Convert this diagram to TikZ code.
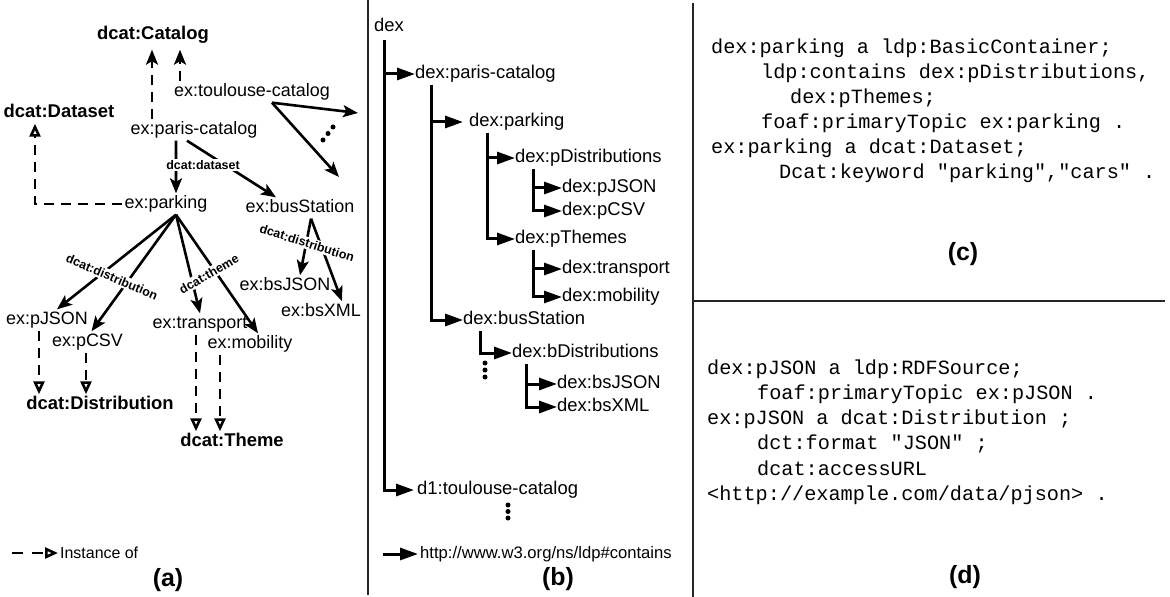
\documentclass[tikz,border=0pt]{standalone}
\usepackage{fontspec}
\setmainfont{Liberation Sans}
\setmonofont{Liberation Mono}
\usetikzlibrary{arrows.meta}
\begin{document}
\begin{tikzpicture}[x=1bp,y=-1bp,
  lbl/.style={font=\fontsize{18}{20}\selectfont, inner sep=2bp, text height=13bp, text depth=4bp},
  cls/.style={font=\fontsize{18.5}{20}\selectfont\bfseries, inner sep=2bp, text height=13bp, text depth=4bp},
  elbl/.style={font=\fontsize{12.5}{13}\selectfont\bfseries, fill=white, inner sep=1.5bp},
  arr/.style={line width=2.6bp, -{Stealth[length=15bp,width=12bp,inset=3.5bp]}},
  instf/.style={line width=2.6bp, dash pattern=on 10bp off 7bp, -{Stealth[length=15bp,width=12bp,inset=3.5bp]}},
  inst/.style={line width=2.6bp, dash pattern=on 10bp off 7bp, -{Triangle[open,length=13bp,width=11bp]}},
  tnode/.style={font=\fontsize{18.5}{20}\selectfont, anchor=west, inner sep=0pt, text height=13.5bp, text depth=4bp},
  tarr/.style={line width=3bp, -{Triangle[length=18bp,width=12bp]}},
  code/.style={font=\fontsize{20.3}{22}\selectfont\ttfamily, anchor=base west, inner sep=0pt},
  plabel/.style={font=\fontsize{25}{28}\selectfont\bfseries, inner sep=0pt},
  divider/.style={line width=1.6bp, draw=black!85}
]
\useasboundingbox (0,0) rectangle (1170,597);

% ---------------- panel (a) ----------------
\node[cls] (cat) at (153,35) {dcat:Catalog};
\node[lbl] (toul) at (252,92) {ex:toulouse-catalog};
\node[cls] (dset) at (59,113) {dcat:Dataset};
\node[lbl] (pc) at (194,130) {ex:paris-catalog};
\node[lbl] (pk) at (166,204) {ex:parking};
\node[lbl] (bus) at (300,208) {ex:busStation};
\node[lbl] (bsj) at (285,286) {ex:bsJSON};
\node[lbl] (bsx) at (321,312) {ex:bsXML};
\node[lbl] (pjson) at (47,320) {ex:pJSON};
\node[lbl] (pcsv) at (87.5,342) {ex:pCSV};
\node[lbl] (trans) at (200,324) {ex:transport};
\node[lbl] (mob) at (250,344) {ex:mobility};
\node[cls] (dist) at (100,405) {dcat:Distribution};
\node[cls] (theme) at (232,442) {dcat:Theme};

% instance-of to catalog
\coordinate (c1) at ([xshift=-42bp]pc.north);
\draw[instf, shorten >=4bp] (c1) -- (c1 |- cat.south);
\coordinate (c2) at ([xshift=-72bp]toul.north);
\draw[instf, shorten >=4bp] (c2) -- (c2 |- cat.south);
% parking instance of dataset
\coordinate (dsb) at ([xshift=-24bp]dset.south);
\draw[inst] (pk.west) -| (dsb);
% contains edges
\draw[arr] ([xshift=-18bp]pc.south) -- ([xshift=10bp]pk.north);
\draw[arr] ([xshift=-7bp]pc.south) -- ([xshift=-24bp]bus.north);
\coordinate (pkb) at ([xshift=10bp]pk.south);
\draw[arr] (pkb) -- ([xshift=10bp]pjson.north);
\draw[arr] (pkb) -- ([xshift=4bp]pcsv.north);
\draw[arr] (pkb) -- (trans.north);
\draw[arr] (pkb) -- ([xshift=8bp]mob.north);
\coordinate (bsb) at ([xshift=11bp]bus.south);
\draw[arr] (bsb) -- ([xshift=15bp]bsj.north);
\draw[arr] (bsb) -- ([xshift=21bp]bsx.north);
\coordinate (tc1) at (358,113);
\coordinate (tc2) at (339,177);
\coordinate (tcs) at ([xshift=20bp]toul.south);
\draw[arr] (tcs) -- (tc1);
\draw[arr] (tcs) -- (tc2);
\fill (323,140) circle (2.5bp) (328,133.5) circle (2.5bp) (333,127) circle (2.5bp);
% instance-of to distribution / theme
\coordinate (i1) at ([xshift=-8bp]pjson.south);
\draw[inst] (i1) -- (i1 |- dist.north);
\coordinate (i2) at ([xshift=-1.5bp]pcsv.south);
\draw[inst] (i2) -- (i2 |- dist.north);
\coordinate (i3) at ([xshift=-4bp]trans.south);
\draw[inst] (i3) -- (i3 |- theme.north);
\coordinate (i4) at ([xshift=-30bp]mob.south);
\draw[inst] (i4) -- (i4 |- theme.north);
% edge labels
\node[elbl] (l1) at (203,165) {dcat:dataset};
\node[elbl, rotate=-23] (l2) at (112,277) {dcat:distribution};
\node[elbl, rotate=30] (l3) at (209,274) {dcat:theme};
\node[elbl, rotate=-17.5] (l4) at (307,243) {dcat:distribution};
% legend
\node[font=\fontsize{16}{18}\selectfont, anchor=west, inner sep=0pt] (inl) at (60,553) {Instance of};
\coordinate (lga) at (12,553);
\draw[inst, dash pattern=on 11bp off 9bp] (lga) -- ([xshift=-2bp]inl.west);
\node[plabel] (pa) at (168,580) {(a)};

% ---------------- panel (b) ----------------
\node[tnode] (dex) at (374,27) {dex};
\node[tnode] (pc2) at (415,74) {dex:paris-catalog};
\node[tnode] (pk2) at (469,122) {dex:parking};
\node[tnode] (pd) at (515,158) {dex:pDistributions};
\node[tnode] (pj) at (562,188) {dex:pJSON};
\node[tnode] (pcv) at (562,211) {dex:pCSV};
\node[tnode] (pt) at (515,239) {dex:pThemes};
\node[tnode] (tr2) at (562,269) {dex:transport};
\node[tnode] (mo2) at (562,297) {dex:mobility};
\node[tnode] (bs2) at (463,320) {dex:busStation};
\node[tnode] (bd) at (512,353) {dex:bDistributions};
\node[tnode] (bj) at (557,384) {dex:bsJSON};
\node[tnode] (bx) at (557,407) {dex:bsXML};
\node[tnode] (tl2) at (417,490) {d1:toulouse-catalog};

\coordinate (v0) at ([xshift=10bp,yshift=-4bp]dex.south west);
\draw[tarr] (v0) |- ([xshift=-3bp]tl2.west);
\draw[tarr] (v0 |- pc2.west) -- (pc2.west);
\coordinate (v1) at ([xshift=16bp,yshift=-2bp]pc2.south west);
\draw[tarr] (v1) |- (bs2.west);
\draw[tarr] (v1 |- pk2.west) -- ([xshift=-6bp]pk2.west);
\coordinate (v2) at ([xshift=18bp,yshift=-2bp]pk2.south west);
\draw[tarr] (v2) |- (pt.west);
\draw[tarr] (v2 |- pd.west) -- (pd.west);
\coordinate (v3) at ([xshift=18bp,yshift=-2bp]pd.south west);
\draw[tarr] (v3) |- (pcv.west);
\draw[tarr] (v3 |- pj.west) -- (pj.west);
\coordinate (v4) at ([xshift=18bp,yshift=-2bp]pt.south west);
\draw[tarr] (v4) |- (mo2.west);
\draw[tarr] (v4 |- tr2.west) -- (tr2.west);
\coordinate (v5) at ([xshift=17bp,yshift=-2bp]bs2.south west);
\draw[tarr] (v5) |- (bd.west);
\coordinate (v6) at ([xshift=14bp,yshift=-2bp]bd.south west);
\draw[tarr] (v6) |- (bx.west);
\draw[tarr] (v6 |- bj.west) -- (bj.west);
\fill (485,363) circle (2.5bp) (485,370) circle (2.5bp) (485,377) circle (2.5bp);
\fill (508,505) circle (2.5bp) (508,511.5) circle (2.5bp) (508,518) circle (2.5bp);
% legend
\node[font=\fontsize{16.7}{18}\selectfont, anchor=west, inner sep=0pt] (lbt) at (420,554) {http://www.w3.org/ns/ldp\#contains};
\coordinate (lb) at (383,554);
\draw[tarr] (lb) -- ([xshift=-2bp]lbt.west);
\node[plabel] (pb) at (558,579) {(b)};

% ---------------- panels (c) and (d) ----------------
\draw[divider] (368,0) -- (368,595);
\draw[divider] (693,3) -- (693,597);
\draw[divider] (693,301) -- (1165,301);

\node[code] (c1t) at (711,54) {dex:parking a ldp:BasicContainer;};
\node[code] (c2t) at (761,79) {ldp:contains dex:pDistributions,};
\node[code] (c3t) at (790,104) {dex:pThemes;};
\node[code] (c4t) at (761,129) {foaf:primaryTopic ex:parking .};
\node[code] (c5t) at (711,154) {ex:parking a dcat:Dataset;};
\node[code] (c6t) at (779,179) {Dcat:keyword "parking","cars" .};
\node[plabel] (pcl) at (963,254) {(c)};

\node[code] (d1t) at (707,374) {dex:pJSON a ldp:RDFSource;};
\node[code] (d2t) at (757,399) {foaf:primaryTopic ex:pJSON .};
\node[code] (d3t) at (707,424) {ex:pJSON a dcat:Distribution ;};
\node[code] (d4t) at (757,449) {dct:format "JSON" ;};
\node[code] (d5t) at (757,475) {dcat:accessURL};
\node[code] (d6t) at (707,500) {<http://example.com/data/pjson> .};
\node[plabel] (pdl) at (965,577) {(d)};
\end{tikzpicture}
\end{document}
